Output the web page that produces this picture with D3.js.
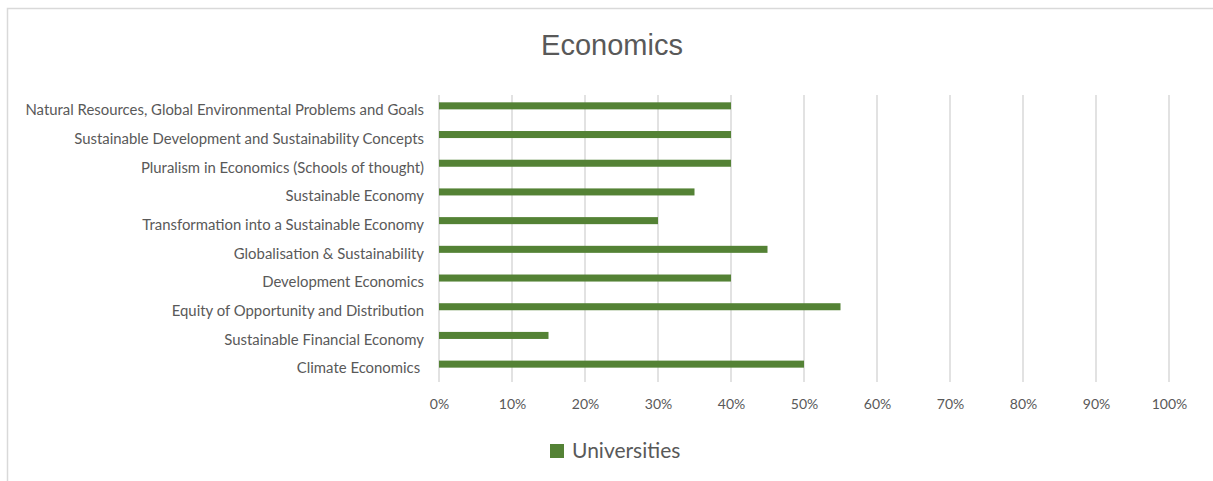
<!DOCTYPE html>
<html>
<head>
<meta charset="utf-8">
<script src="https://cdn.jsdelivr.net/npm/d3@7"></script>
<style>
  html, body { margin: 0; padding: 0; background: #fff; }
  svg { display: block; }
  .lbl { white-space: pre; }
</style>
</head>
<body>
<svg id="chart" width="1213" height="481"></svg>
<script>
// Topics, listed top to bottom as they appear on the chart
const categories = [
  "Natural Resources, Global Environmental Problems and Goals",
  "Sustainable Development and Sustainability Concepts",
  "Pluralism in Economics (Schools of thought)",
  "Sustainable Economy",
  "Transformation into a Sustainable Economy",
  "Globalisation & Sustainability",
  "Development Economics",
  "Equity of Opportunity and Distribution",
  "Sustainable Financial Economy",
  "Climate Economics "
];
// Share of universities covering each topic
const universities = [0.40, 0.40, 0.40, 0.35, 0.30, 0.45, 0.40, 0.55, 0.15, 0.50];
const tickValues = [0, 0.1, 0.2, 0.3, 0.4, 0.5, 0.6, 0.7, 0.8, 0.9, 1.0];
const seriesName = "Universities";
const chartTitle = "Economics";

const W = 1213, H = 481;
const plot = { left: 439, right: 1169, top: 95, bottom: 382 };
const barColor = "#548235";
const textColor = "#595959";
const gridColor = "#d9d9d9";
const bodyFont = "Lato, 'Open Sans', sans-serif";

const svg = d3.select("#chart");

// chart frame
svg.append("rect")
  .attr("x", 7.5).attr("y", 8.5)
  .attr("width", W + 10).attr("height", H + 10)
  .attr("fill", "#fff")
  .attr("stroke", gridColor).attr("stroke-width", 1.5);

const x = d3.scaleLinear().domain([0, 1]).range([plot.left, plot.right]);
const y = d3.scaleBand().domain(categories).range([plot.top, plot.bottom]).padding(0);

// title
svg.append("text")
  .attr("x", 612)
  .attr("y", 55)
  .attr("text-anchor", "middle")
  .attr("font-family", "'Liberation Sans', Arial, sans-serif")
  .attr("font-size", 29)
  .attr("fill", textColor)
  .text(chartTitle);

// vertical gridlines
svg.append("g")
  .selectAll("line")
  .data(tickValues)
  .join("line")
  .attr("x1", d => x(d)).attr("x2", d => x(d))
  .attr("y1", plot.top).attr("y2", plot.bottom)
  .attr("stroke", gridColor).attr("stroke-width", 1.5);

// x axis tick labels
const xAxis = d3.axisBottom(x)
  .tickValues(tickValues)
  .tickFormat(d3.format(".0%"))
  .tickSize(0)
  .tickPadding(0);
const gx = svg.append("g")
  .attr("transform", `translate(0, ${plot.bottom + 17})`)
  .call(xAxis);
gx.select(".domain").remove();
gx.selectAll("text")
  .attr("font-family", bodyFont)
  .attr("font-size", 14)
  .attr("fill", textColor);

// y axis category labels
const yAxis = d3.axisLeft(y).tickSize(0).tickPadding(0);
const gy = svg.append("g")
  .attr("transform", `translate(${plot.left - 15}, 1)`)
  .call(yAxis);
gy.select(".domain").remove();
gy.selectAll("text")
  .attr("class", "lbl")
  .attr("font-family", bodyFont)
  .attr("font-size", 14.9)
  .attr("fill", textColor);

// bars (first slot of a two-slot cluster, ending at the band centre)
const barH = y.bandwidth() * 0.245;
svg.append("g")
  .selectAll("rect")
  .data(categories.map((c, i) => ({ c, v: universities[i] })))
  .join("rect")
  .attr("x", x(0))
  .attr("y", d => y(d.c) + y.bandwidth() / 2 - barH)
  .attr("width", d => x(d.v) - x(0))
  .attr("height", barH)
  .attr("fill", barColor);

// legend
const lg = svg.append("g").attr("transform", "translate(550, 444)");
lg.append("rect").attr("width", 14).attr("height", 14).attr("fill", barColor);
lg.append("text")
  .attr("x", 22).attr("y", 14)
  .attr("font-family", bodyFont)
  .attr("font-size", 21)
  .attr("fill", textColor)
  .text(seriesName);
</script>
</body>
</html>
